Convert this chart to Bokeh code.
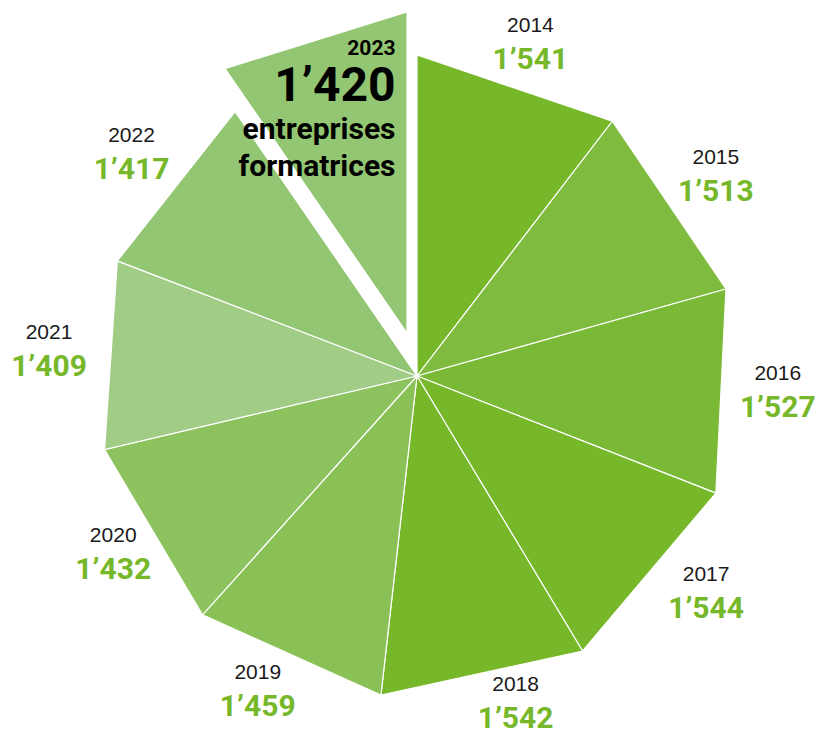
import numpy as np
from bokeh.plotting import figure
from bokeh.models import Range1d
from bokeh.embed import file_html
from bokeh.resources import INLINE
from bokeh.core.properties import value

# ---- data ----
years = ["2014", "2015", "2016", "2017", "2018", "2019", "2020", "2021", "2022", "2023"]
counts = [1541, 1513, 1527, 1544, 1542, 1459, 1432, 1409, 1417, 1420]
value_labels = ["1’541", "1’513", "1’527", "1’544", "1’542", "1’459", "1’432", "1’409", "1’417", "1’420"]
highlight_caption = ["entreprises", "formatrices"]

# ---- styles / layout ----
slice_colors = ["#76B82A", "#7EBB3E", "#7AB935", "#76B82A", "#76B82A",
                "#8AC157", "#8DC35E", "#A0CC86", "#93C672", "#93C672"]
value_color = "#76B82A"
R = 321.0                       # pie radius (px)
explode = (-10.0, 43.0)         # offset of highlighted (last) slice
label_nudge_deg = [0, 0, 0.7, 3.6, 4.6, -2.8, -0.6, -0.4, 0.1]
label_radius = [353, 361, 361, 360, 339, 351, 351, 369, 363]
FONT_YEAR = value("Liberation Sans")
FONT_BOLD = value("Roboto")
BL = 0.4   # baseline compensation (fraction of font size)

total = float(sum(counts))
fracs = np.array(counts) / total
ends_cum = np.cumsum(fracs)
starts_cum = ends_cum - fracs
a0 = np.deg2rad(90 - starts_cum * 360)
a1 = np.deg2rad(90 - ends_cum * 360)

xs, ys = [], []
n = len(counts)
for i in range(n):
    ox, oy = (explode if i == n - 1 else (0.0, 0.0))
    xs.append([ox, ox + R * np.cos(a0[i]), ox + R * np.cos(a1[i])])
    ys.append([oy, oy + R * np.sin(a0[i]), oy + R * np.sin(a1[i])])

p = figure(width=816, height=739, output_backend="svg", toolbar_location=None,
           x_range=Range1d(-416.5, 399.5), y_range=Range1d(-363.5, 375.5),
           min_border=0)
p.axis.visible = False
p.xgrid.visible = False
p.ygrid.visible = False
p.outline_line_color = None
p.background_fill_color = "white"
p.border_fill_color = "white"

p.patches(xs, ys, fill_color=slice_colors, line_color="white", line_width=1.2,
          line_join="miter")

# ---- outer labels (all but the highlighted slice) ----
mid = (a0 + a1) / 2
lx, ly, ytxt, vtxt = [], [], [], []
for i in range(n - 1):
    ang = mid[i] + np.deg2rad(label_nudge_deg[i])
    lx.append(label_radius[i] * np.cos(ang))
    ly.append(label_radius[i] * np.sin(ang))
    ytxt.append(years[i])
    vtxt.append(value_labels[i])

p.text(x=lx, y=[v + 8 + BL * 21 for v in ly], text=ytxt, text_align="center",
       text_baseline="alphabetic", text_font=FONT_YEAR,
       text_font_size="21px", text_color="#1a1a1a")
p.text(x=lx, y=[v - 29 + BL * 30 for v in ly], text=vtxt, text_align="center",
       text_baseline="alphabetic", text_font=FONT_BOLD,
       text_font_size="30px", text_font_style="bold", text_color=value_color)

# ---- highlighted slice text ----
hx = -21.5
p.text(x=[hx], y=[320.5 + BL * 21], text=[years[-1]], text_align="right",
       text_baseline="alphabetic", text_font=FONT_BOLD, text_font_size="21px",
       text_font_style="bold", text_color="black")
p.text(x=[hx], y=[272.5 + BL * 48], text=[value_labels[-1]], text_align="right",
       text_baseline="alphabetic", text_font=FONT_BOLD, text_font_size="48px",
       text_font_style="bold", text_color="black")
p.text(x=[hx, hx], y=[235.5 + BL * 30, 198.5 + BL * 30], text=highlight_caption,
       text_align="right", text_baseline="alphabetic", text_font=FONT_BOLD,
       text_font_size="30px", text_font_style="bold", text_color="black")

open("out.html", "w").write(file_html(p, INLINE))
